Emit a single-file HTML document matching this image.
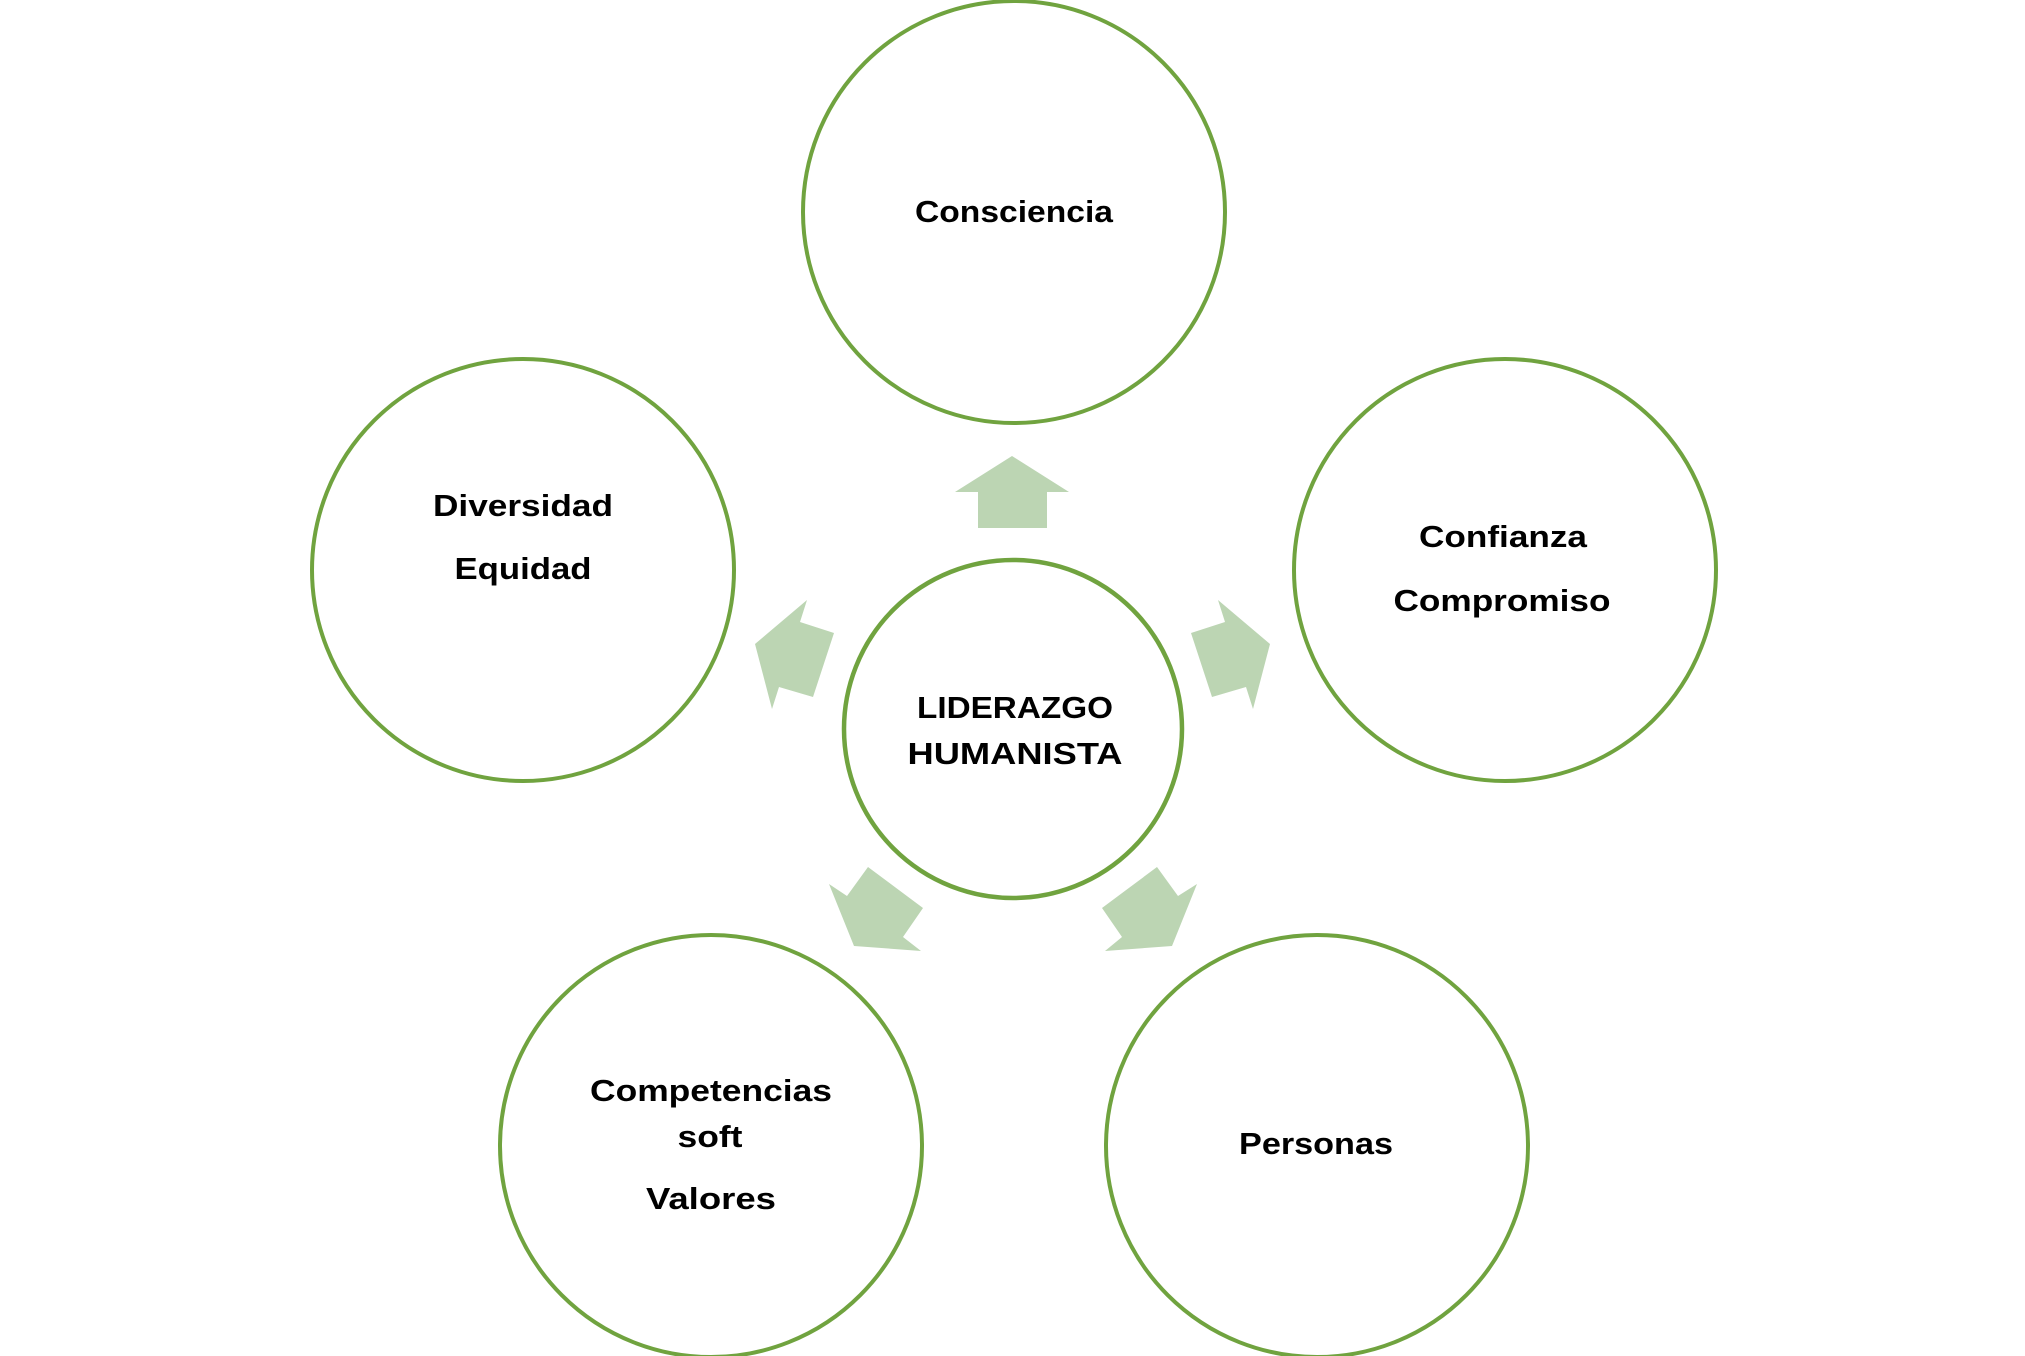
<!DOCTYPE html>
<html><head><meta charset="utf-8"><style>
html,body{margin:0;padding:0;background:#fff;}
svg{display:block;}
text{font-family:"Liberation Sans",sans-serif;font-weight:bold;font-size:31px;fill:#000;text-anchor:middle;}
</style></head><body>
<svg width="2025" height="1356" viewBox="0 0 2025 1356" xmlns="http://www.w3.org/2000/svg">
<g fill="#fff" stroke="#70a33f" stroke-width="4">
<circle cx="1014" cy="212" r="211"/>
<circle cx="523" cy="570" r="211"/>
<circle cx="1505" cy="570" r="211"/>
<circle cx="711" cy="1146" r="211"/>
<circle cx="1317" cy="1146" r="211"/>
<circle cx="1013" cy="729" r="169" stroke-width="4.5"/>
</g>
<g fill="#bcd5b3">
<polygon points="1012,456 1069,492 1047,492 1047,528 978,528 978,492 955,492"/>
<polygon points="807,600 800,622 834,633 813,697 779,687 772,709 755,644"/>
<polygon points="1218,600 1225,622 1191,633 1212,697 1246,687 1253,709 1270,644"/>
<polygon points="868,867 923,908 903,937 921,951 854,946 829,884 847,896"/>
<polygon points="1157,867 1102,908 1122,937 1105,951 1172,946 1197,884 1178,896"/>
</g>
<text x="1014" y="222" textLength="198" lengthAdjust="spacingAndGlyphs">Consciencia</text>
<text x="523" y="516" textLength="180" lengthAdjust="spacingAndGlyphs">Diversidad</text>
<text x="523" y="579" textLength="137" lengthAdjust="spacingAndGlyphs">Equidad</text>
<text x="1503" y="547" textLength="168" lengthAdjust="spacingAndGlyphs">Confianza</text>
<text x="1502" y="611" textLength="217" lengthAdjust="spacingAndGlyphs">Compromiso</text>
<text x="1015" y="718" textLength="196" lengthAdjust="spacingAndGlyphs">LIDERAZGO</text>
<text x="1015" y="764" textLength="215" lengthAdjust="spacingAndGlyphs">HUMANISTA</text>
<text x="711" y="1101" textLength="242" lengthAdjust="spacingAndGlyphs">Competencias</text>
<text x="710" y="1147" textLength="65" lengthAdjust="spacingAndGlyphs">soft</text>
<text x="711" y="1209" textLength="130" lengthAdjust="spacingAndGlyphs">Valores</text>
<text x="1316" y="1154" textLength="154" lengthAdjust="spacingAndGlyphs">Personas</text>
</svg>
</body></html>
